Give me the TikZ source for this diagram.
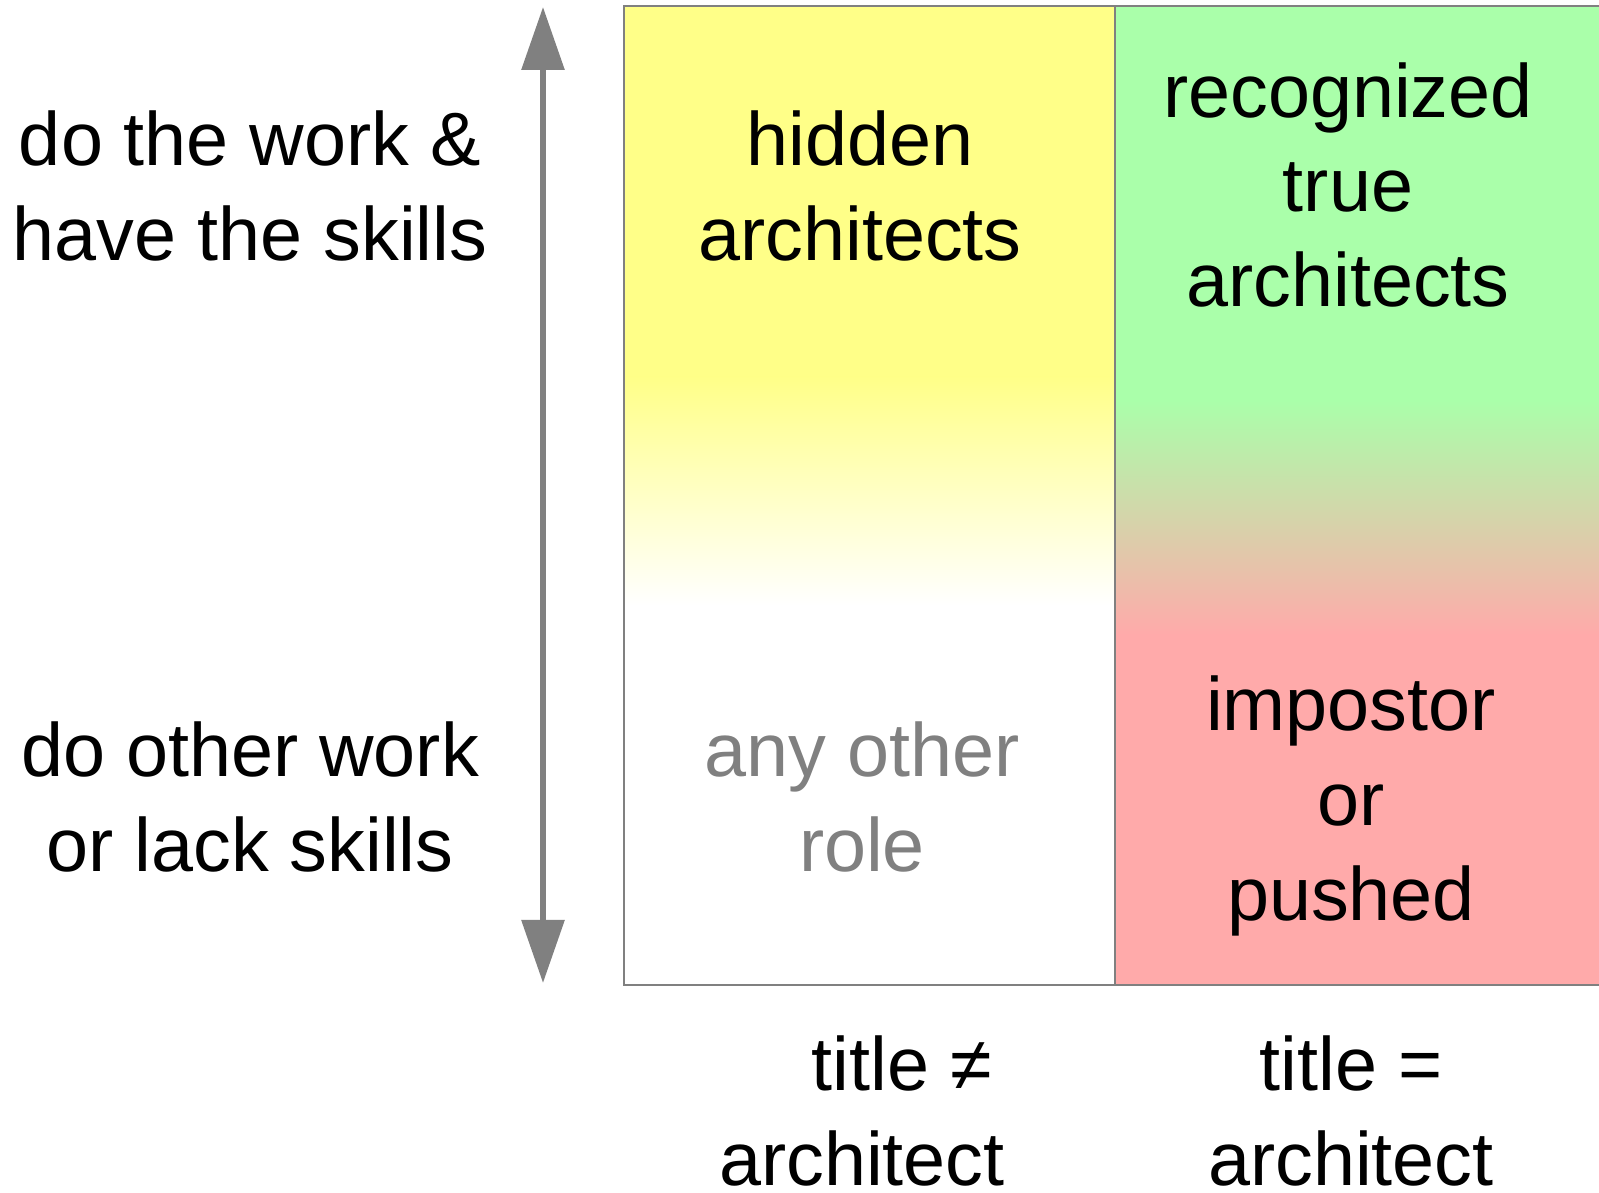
\documentclass[tikz,border=0pt]{standalone}
\usepackage{fontspec}
\setmainfont{Liberation Sans}
\usetikzlibrary{arrows.meta}
\definecolor{hiddenyellow}{RGB}{255,255,136}
\definecolor{truegreen}{RGB}{170,255,170}
\definecolor{impostorred}{RGB}{255,170,170}
\definecolor{framegray}{RGB}{128,128,128}
\tikzset{
  lbl/.style={align=center, inner sep=0pt, font=\fontsize{21.5}{27}\selectfont},
  frame/.style={draw=framegray, line width=0.25mm},
  axis/.style={framegray, line width=0.6mm, {Triangle[length=6.3mm,width=4.2mm]}-{Triangle[length=6.3mm,width=4.2mm]}}
}
\begin{document}
\begin{tikzpicture}
\useasboundingbox (0,0) rectangle (15.99,11.93);
% columns
\fill[hiddenyellow] (6.24,8.15) rectangle (11.15,11.87);
\shade[top color=hiddenyellow, bottom color=white] (6.24,5.88) rectangle (11.15,8.16);
\fill[truegreen] (11.15,7.92) rectangle (15.99,11.87);
\shade[top color=truegreen, bottom color=impostorred] (11.15,5.58) rectangle (15.99,7.93);
\fill[impostorred] (11.15,2.08) rectangle (15.99,5.59);
% frame
\draw[frame] (15.99,11.87) -- (6.24,11.87) -- (6.24,2.08) -- (15.99,2.08);
\draw[frame] (11.15,11.87) -- (11.15,2.08);
% vertical axis
\coordinate (skilled) at (5.43,11.86);
\coordinate (unskilled) at (5.43,2.10);
\draw[axis] (unskilled) -- (skilled);
% row labels
\node[lbl] (work) at (2.50,10.07) {do the work \&\\have the skills};
\node[lbl] (other) at (2.50,3.96) {do other work\\or lack skills};
% cells
\node[lbl] (hidden) at (8.60,10.07) {hidden\\architects};
\node[lbl] (true) at (13.48,10.08) {recognized\\true\\architects};
\node[lbl, text=framegray] (anyrole) at (8.62,3.96) {any other\\role};
\node[lbl] (impostor) at (13.51,3.87) {impostor\\or\\pushed};
% column labels
\node[lbl] (notitle) at (8.62,0.82) {\hspace*{0.8cm}title ≠\\architect};
\node[lbl] (title) at (13.51,0.82) {title =\\architect};
\end{tikzpicture}
\end{document}
